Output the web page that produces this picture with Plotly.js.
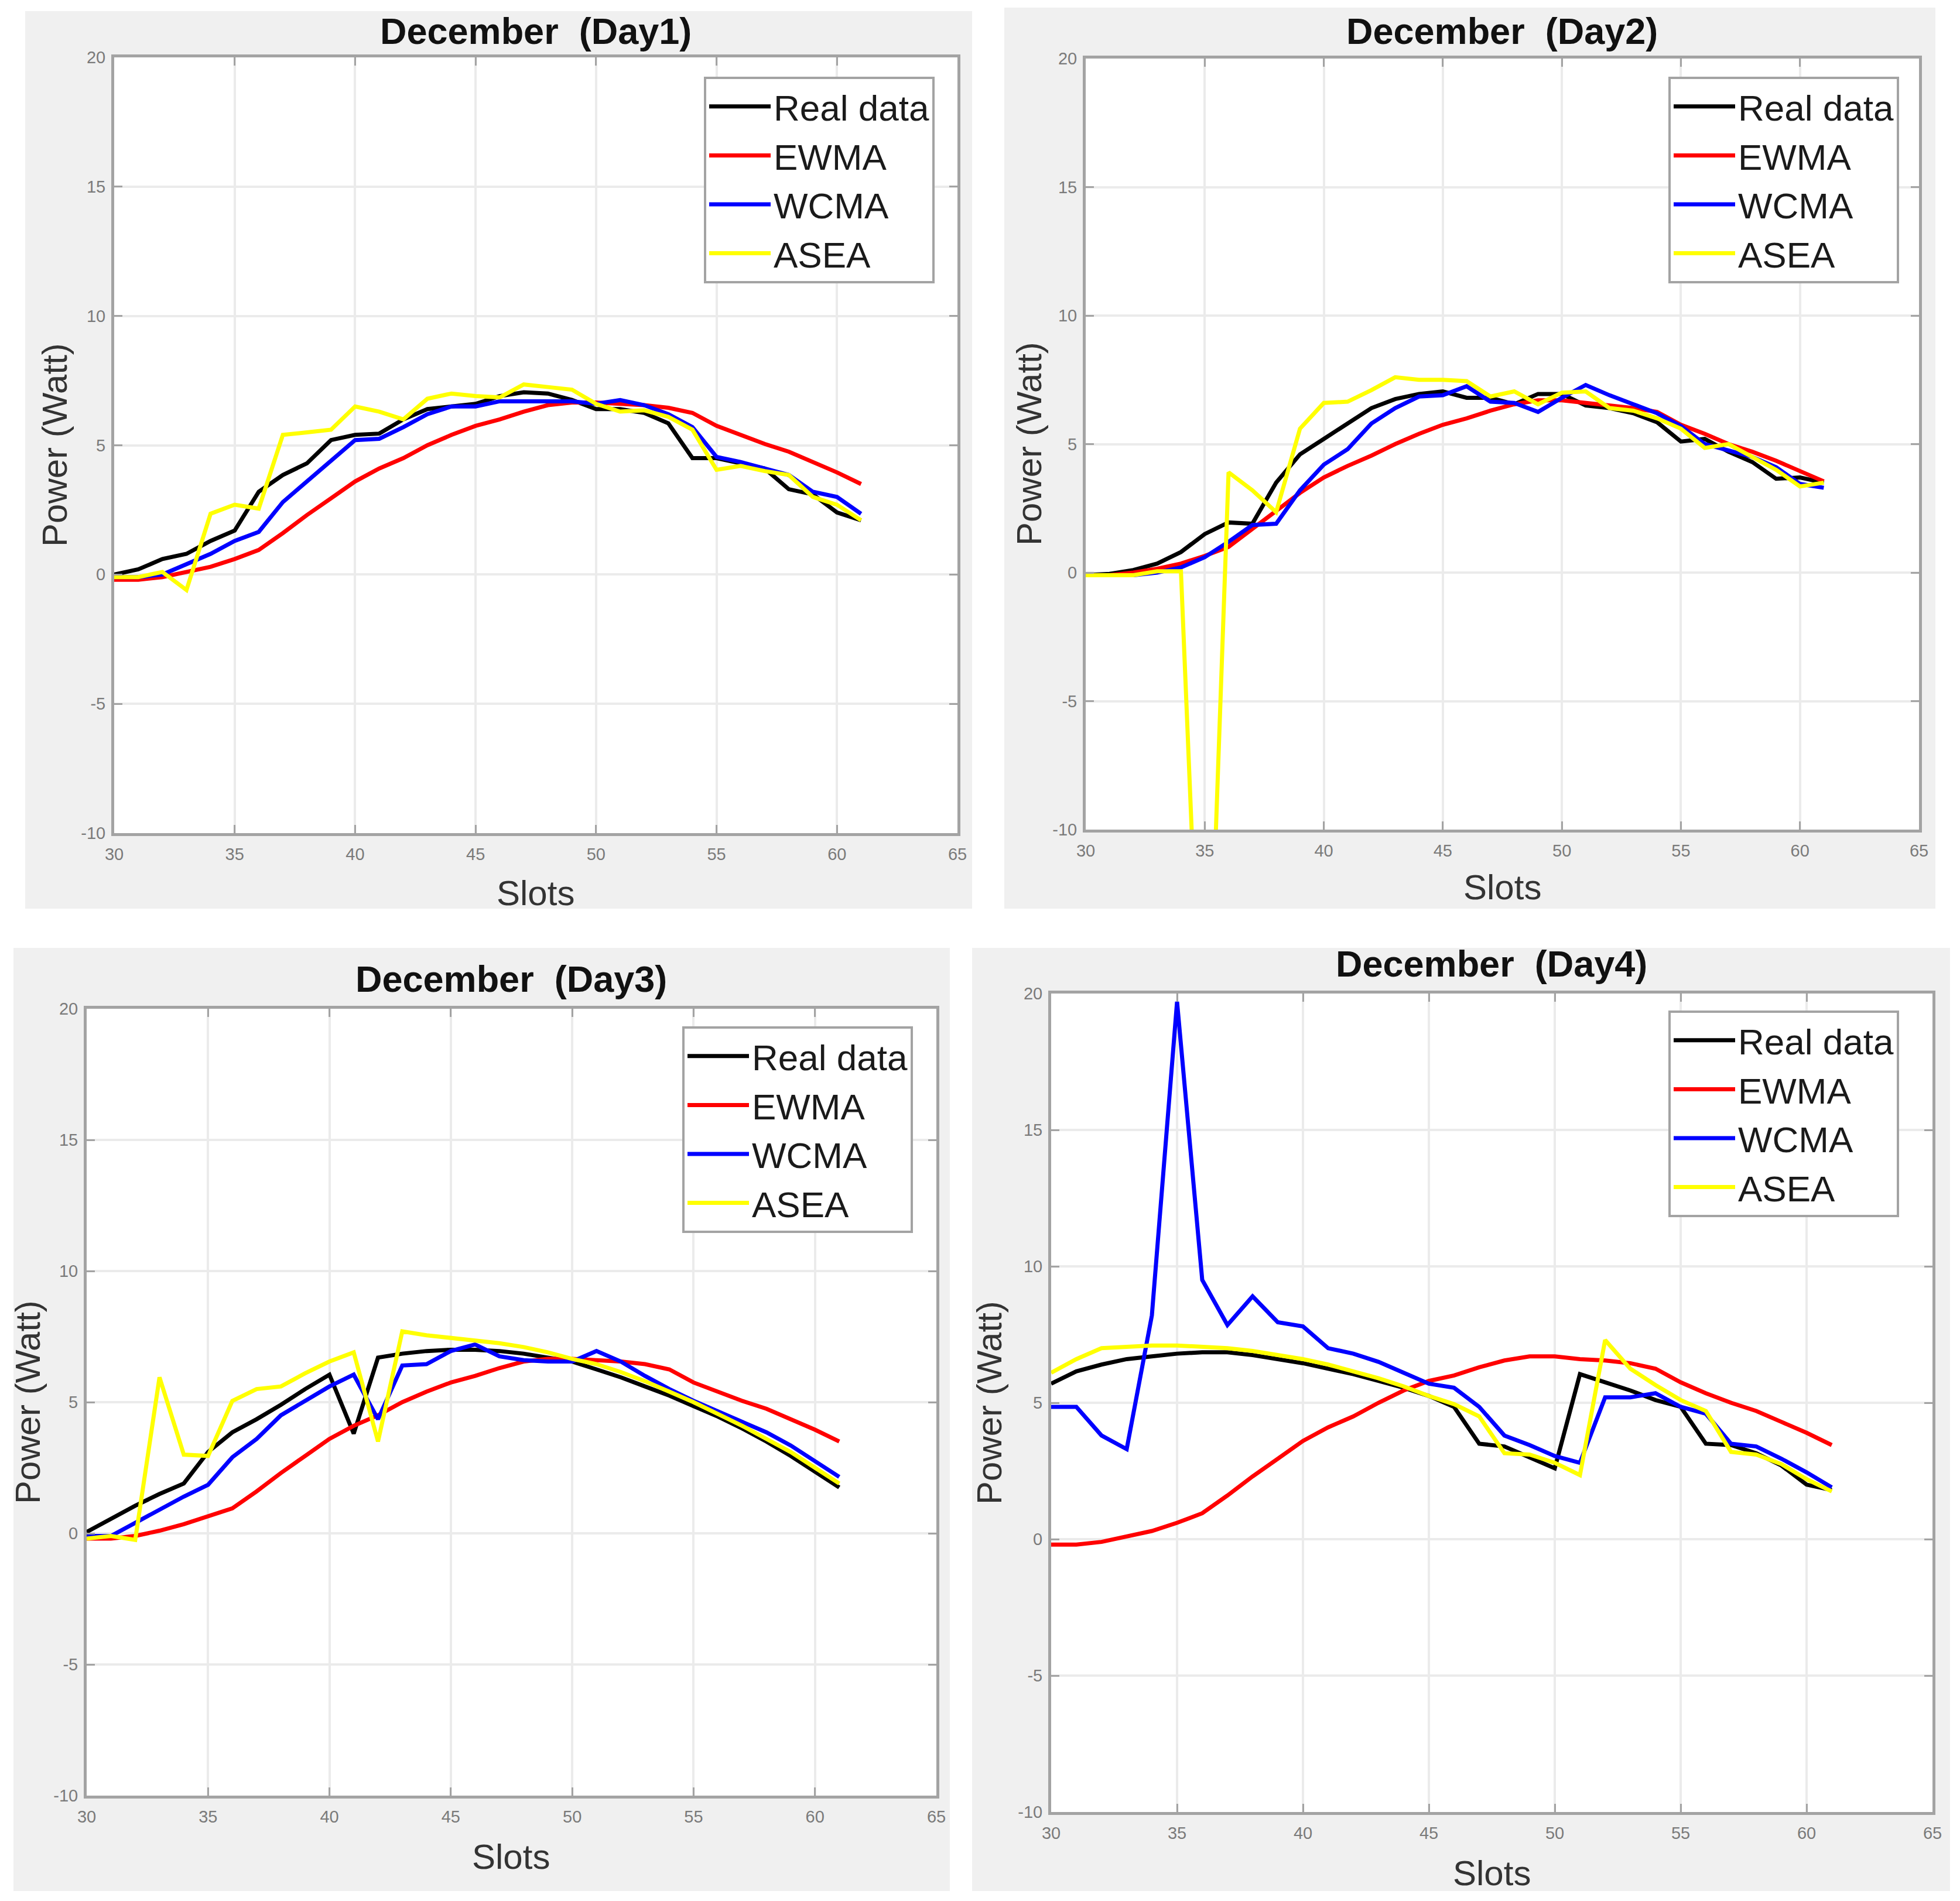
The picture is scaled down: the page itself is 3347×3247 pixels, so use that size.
<!DOCTYPE html>
<html><head><meta charset="utf-8">
<script src="https://cdn.plot.ly/plotly-3.0.1.min.js"></script>
<style>html,body{margin:0;padding:0;background:#fff}#chart{width:3347px;height:3247px}</style>
</head><body><div id="chart"></div>
<script>
// ---------- data ----------
const slots = [30,31,32,33,34,35,36,37,38,39,40,41,42,43,44,45,46,47,48,49,50,51,52,53,54,55,56,57,58,59,60,61];
const seriesNames = ['Real data','EWMA','WCMA','ASEA'];
const panelTitles = ['December \u00a0(Day1)','December \u00a0(Day2)','December \u00a0(Day3)','December \u00a0(Day4)'];
const xTickVals = [30,35,40,45,50,55,60,65];
const xTickText = ['30','35','40','45','50','55','60','65'];
const yTickVals = [-10,-5,0,5,10,15,20];
const yTickText = ['-10','-5','0','5','10','15','20'];

const day1Real = [0,0.2,0.6,0.8,1.3,1.7,3.2,3.85,4.3,5.2,5.4,5.45,6.0,6.4,6.5,6.6,6.9,7.05,7.0,6.75,6.4,6.4,6.25,5.85,4.5,4.5,4.3,4.1,3.3,3.1,2.4,2.1];
const day1Ewma = [-0.2,-0.2,-0.1,0.1,0.3,0.6,0.95,1.6,2.3,2.95,3.6,4.1,4.5,5.0,5.4,5.75,6.0,6.3,6.55,6.65,6.65,6.6,6.55,6.45,6.25,5.75,5.4,5.05,4.75,4.35,3.95,3.5];
const day1Wcma = [-0.1,-0.1,0.0,0.4,0.8,1.3,1.65,2.8,3.6,4.4,5.2,5.25,5.7,6.2,6.5,6.5,6.7,6.7,6.7,6.7,6.6,6.75,6.55,6.2,5.7,4.55,4.35,4.1,3.85,3.2,3.0,2.35];
const day1Asea = [-0.1,-0.1,0.1,-0.6,2.35,2.7,2.55,5.4,5.5,5.6,6.5,6.3,6.0,6.8,7.0,6.9,6.85,7.35,7.25,7.15,6.6,6.3,6.35,6.1,5.6,4.05,4.2,4.0,3.85,3.0,2.7,2.1];

const day2Real = [-0.1,-0.05,0.1,0.35,0.8,1.5,1.95,1.9,3.5,4.6,5.2,5.8,6.4,6.75,6.95,7.05,6.8,6.8,6.55,6.95,6.95,6.5,6.4,6.2,5.85,5.1,5.2,4.7,4.3,3.65,3.7,3.5];
const day2Ewma = [-0.1,-0.1,0.0,0.15,0.35,0.65,1.0,1.7,2.4,3.1,3.7,4.15,4.55,5.0,5.4,5.75,6.0,6.3,6.55,6.7,6.7,6.6,6.5,6.4,6.25,5.75,5.4,5.0,4.7,4.35,3.95,3.55];
const day2Wcma = [-0.1,-0.1,-0.1,0.0,0.2,0.6,1.2,1.85,1.9,3.2,4.2,4.8,5.8,6.4,6.85,6.9,7.25,6.65,6.6,6.25,6.8,7.3,6.9,6.55,6.2,5.7,5.0,4.75,4.5,4.1,3.45,3.3];
const day2Asea = [-0.1,-0.1,-0.1,0.05,0.05,-22.3,3.9,3.2,2.35,5.6,6.6,6.65,7.1,7.6,7.5,7.5,7.45,6.85,7.05,6.55,7.0,7.05,6.4,6.3,6.0,5.6,4.85,5.0,4.5,4.0,3.35,3.5];

const day3Real = [0.05,0.55,1.05,1.5,1.9,3.1,3.85,4.35,4.9,5.5,6.05,3.8,6.7,6.85,6.95,7.0,7.0,6.95,6.85,6.7,6.55,6.25,5.95,5.6,5.25,4.85,4.45,4.0,3.5,2.95,2.35,1.75];
const day3Ewma = [-0.2,-0.2,-0.1,0.1,0.35,0.65,0.95,1.6,2.3,2.95,3.6,4.1,4.5,5.0,5.4,5.75,6.0,6.3,6.55,6.65,6.65,6.6,6.55,6.45,6.25,5.75,5.4,5.05,4.75,4.35,3.95,3.5];
const day3Wcma = [-0.1,-0.1,0.4,0.9,1.4,1.85,2.9,3.6,4.5,5.05,5.6,6.05,4.35,6.4,6.45,6.95,7.2,6.75,6.6,6.55,6.55,6.95,6.55,6.0,5.5,5.05,4.65,4.25,3.85,3.35,2.75,2.15];
const day3Asea = [-0.2,-0.1,-0.25,5.95,3.0,2.95,5.05,5.5,5.6,6.1,6.55,6.9,3.5,7.7,7.55,7.45,7.35,7.25,7.1,6.9,6.65,6.45,6.15,5.8,5.4,5.0,4.55,4.1,3.6,3.1,2.5,1.9];

const day4Real = [5.7,6.15,6.4,6.6,6.7,6.8,6.85,6.85,6.75,6.6,6.45,6.25,6.05,5.8,5.55,5.25,4.85,3.5,3.4,3.0,2.6,6.05,5.75,5.45,5.1,4.85,3.5,3.45,3.15,2.7,2.0,1.8];
const day4Ewma = [-0.2,-0.2,-0.1,0.1,0.3,0.6,0.95,1.6,2.3,2.95,3.6,4.1,4.5,5.0,5.45,5.8,6.0,6.3,6.55,6.7,6.7,6.6,6.55,6.45,6.25,5.75,5.35,5.0,4.7,4.3,3.9,3.45];
const day4Wcma = [4.85,4.85,3.8,3.3,8.2,19.7,9.5,7.85,8.9,7.95,7.8,7.0,6.8,6.5,6.1,5.7,5.55,4.85,3.8,3.45,3.05,2.8,5.2,5.2,5.35,4.85,4.6,3.5,3.4,2.95,2.45,1.9];
const day4Asea = [6.1,6.6,7.0,7.05,7.1,7.1,7.05,7.0,6.9,6.75,6.6,6.4,6.15,5.9,5.6,5.25,4.95,4.5,3.15,3.1,2.8,2.35,7.3,6.25,5.65,5.1,4.7,3.2,3.1,2.75,2.2,1.75];

const panelSeries = [
  [day1Real, day1Ewma, day1Wcma, day1Asea],
  [day2Real, day2Ewma, day2Wcma, day2Asea],
  [day3Real, day3Ewma, day3Wcma, day3Asea],
  [day4Real, day4Ewma, day4Wcma, day4Asea]
];

// ---------- styling / layout (pixels of the 3347x3247 canvas) ----------
const W = 3347, H = 3247;
const seriesColors = ['#000000','#ff0000','#0000ff','#ffff00'];
const FONT = 'Liberation Sans, Arial, Helvetica, sans-serif';
const panels = [
  {plot:[195,1635,98,1423],  bg:[43,1660,19,1552],   title:[915,53],   xlab:[915,1525],  ylab:[94,760],    legend:[1202,131]},
  {plot:[1854,3277,100,1417],bg:[1715,3305,13,1552], title:[2565,53],  xlab:[2565,1515], ylab:[1757,758],  legend:[2849,131]},
  {plot:[148,1599,1723,3067],bg:[23,1622,1619,3230], title:[873,1672], xlab:[873,3171],  ylab:[47,2395],   legend:[1165,1753]},
  {plot:[1795,3300,1697,3095],bg:[1660,3330,1619,3230],title:[2547,1646],xlab:[2547,3199],ylab:[1689,2396], legend:[2849,1726]}
];
const fx = x => x / W;
const fy = y => 1 - y / H;

const traces = [];
const layout = {
  width: W, height: H,
  margin: {l:0, r:0, t:0, b:0},
  paper_bgcolor: '#ffffff',
  plot_bgcolor: '#ffffff',
  showlegend: true,
  shapes: [],
  annotations: []
};

panels.forEach((p, i) => {
  const sfx = i === 0 ? '' : String(i + 1);
  const legendId = 'legend' + sfx;
  panelSeries[i].forEach((vals, j) => {
    traces.push({
      x: slots, y: vals, type: 'scatter', mode: 'lines',
      name: seriesNames[j],
      xaxis: 'x' + sfx, yaxis: 'y' + sfx,
      legend: legendId,
      line: {color: seriesColors[j], width: 7},
      hoverinfo: 'skip'
    });
  });
  const axCommon = {
    showline: true, linecolor: '#a3a3a3', linewidth: 5, mirror: 'ticks',
    ticks: 'inside', ticklen: 14, tickwidth: 3, tickcolor: '#a3a3a3',
    showgrid: true, gridcolor: '#ebebeb', gridwidth: 4, zeroline: false,
    tickfont: {family: FONT, size: 29, color: '#7a7a7a'},
    fixedrange: true
  };
  layout['xaxis' + sfx] = Object.assign({}, axCommon, {
    domain: [fx(p.plot[0]), fx(p.plot[1])],
    anchor: 'y' + sfx, range: [30, 65], tickmode: 'array', tickvals: xTickVals, ticktext: xTickText, ticklabelstandoff: 6
  });
  layout['yaxis' + sfx] = Object.assign({}, axCommon, {
    domain: [fy(p.plot[3]), fy(p.plot[2])],
    anchor: 'x' + sfx, range: [-10, 20], tickmode: 'array', tickvals: yTickVals, ticktext: yTickText, ticklabelstandoff: 4
  });
  layout[legendId] = {
    x: fx(p.legend[0]), y: fy(p.legend[1]), xanchor: 'left', yanchor: 'top',
    xref: 'paper', yref: 'paper',
    bgcolor: '#ffffff', bordercolor: '#a3a3a3', borderwidth: 4,
    font: {family: FONT, size: 62, color: '#1a1a1a'},
    itemwidth: 105, traceorder: 'normal', tracegroupgap: 0
  };
  // grey figure panel behind each axes
  layout.shapes.push({
    type: 'rect', xref: 'paper', yref: 'paper', layer: 'below',
    x0: fx(p.bg[0]), x1: fx(p.bg[1]), y0: fy(p.bg[3]), y1: fy(p.bg[2]),
    fillcolor: '#f0f0f0', line: {width: 0}
  });
  // white plotting area (drawn inside the subplot, under the grid)
  layout.shapes.push({
    type: 'rect', xref: 'x' + sfx + ' domain', yref: 'y' + sfx + ' domain', layer: 'below',
    x0: 0, x1: 1, y0: 0, y1: 1,
    fillcolor: '#ffffff', line: {width: 0}
  });
  layout.annotations.push({
    text: '<b>' + panelTitles[i] + '</b>', xref: 'paper', yref: 'paper',
    x: fx(p.title[0]), y: fy(p.title[1]), xanchor: 'center', yanchor: 'middle',
    showarrow: false, font: {family: FONT, size: 63, color: '#111111'}
  });
  layout.annotations.push({
    text: 'Slots', xref: 'paper', yref: 'paper',
    x: fx(p.xlab[0]), y: fy(p.xlab[1]), xanchor: 'center', yanchor: 'middle',
    showarrow: false, font: {family: FONT, size: 60, color: '#333333'}
  });
  layout.annotations.push({
    text: 'Power (Watt)', xref: 'paper', yref: 'paper', textangle: -90,
    x: fx(p.ylab[0]), y: fy(p.ylab[1]), xanchor: 'center', yanchor: 'middle',
    showarrow: false, font: {family: FONT, size: 60, color: '#333333'}
  });
});

Plotly.newPlot('chart', traces, layout, {displayModeBar: false, staticPlot: true});
</script>
</body></html>
